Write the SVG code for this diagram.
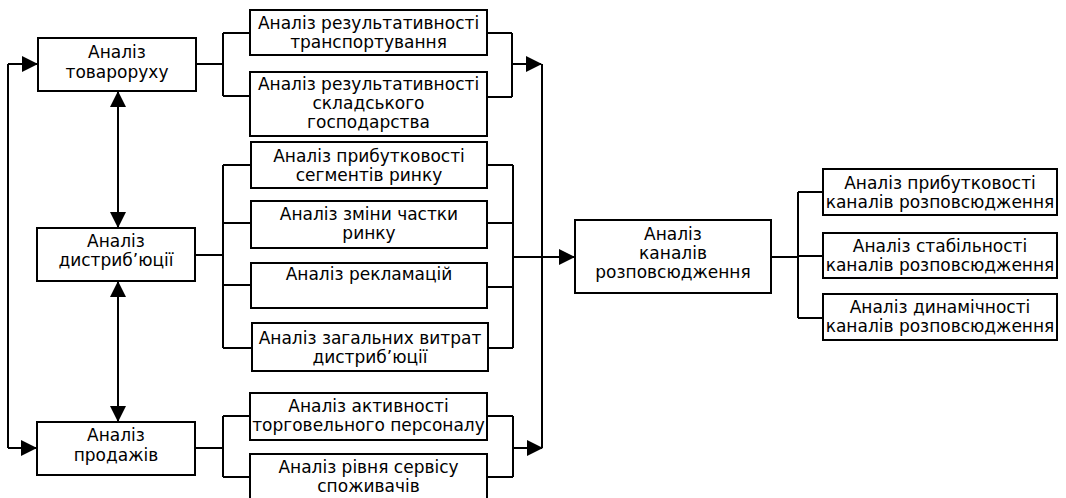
<svg xmlns="http://www.w3.org/2000/svg" width="1066" height="498" viewBox="0 0 1066 498">
<style>
.box{fill:#fff;stroke:#000;stroke-width:2}
.t{font-family:"DejaVu Sans",Verdana,sans-serif;font-size:17px;text-anchor:middle;fill:#000}
.c{fill:none;stroke:#000;stroke-width:2}
</style>
<defs>
<marker id="ah" markerWidth="16" markerHeight="16" viewBox="0 0 16 16" refX="15" refY="8" orient="auto" markerUnits="userSpaceOnUse">
<path d="M0,0 L16,8 L0,16 Z" fill="#000"/>
</marker>
<marker id="ahs" markerWidth="16" markerHeight="16" viewBox="0 0 16 16" refX="15" refY="8" orient="auto-start-reverse" markerUnits="userSpaceOnUse">
<path d="M0,0 L16,8 L0,16 Z" fill="#000"/>
</marker>
</defs>
<rect width="1066" height="498" fill="#fff"/>
<g id="connectors">
<path class="c" d="M8,64 L8,448"/>
<path class="c" d="M8,64 L37,64" marker-end="url(#ah)"/>
<path class="c" d="M8,448 L36,448" marker-end="url(#ah)"/>
<path class="c" d="M118,92 L118,227" marker-start="url(#ahs)" marker-end="url(#ahs)"/>
<path class="c" d="M118,282 L118,421" marker-start="url(#ahs)" marker-end="url(#ahs)"/>
<path class="c" d="M196,64 L223,64 M223,33 L223,96 M223,33 L250,33 M223,96 L250,96"/>
<path class="c" d="M195,255 L223,255 M223,165 L223,348 M223,165 L251,165 M223,223 L251,223 M223,285 L251,285 M223,348 L252,348"/>
<path class="c" d="M195,448 L223,448 M223,416 L223,477 M223,416 L250,416 M223,477 L250,477"/>
<path class="c" d="M487,33 L512,33 M512,33 L512,97 M487,97 L512,97"/>
<path class="c" d="M512,64 L541,64" marker-end="url(#ah)"/>
<path class="c" d="M487,165 L513,165 M487,223 L513,223 M487,287 L513,287 M488,348 L513,348 M513,165 L513,348"/>
<path class="c" d="M512,257 L574,257" marker-end="url(#ah)"/>
<path class="c" d="M487,416 L513,416 M487,477 L513,477 M513,416 L513,477"/>
<path class="c" d="M513,448 L542,448" marker-end="url(#ah)"/>
<path class="c" d="M542,64 L542,448"/>
<path class="c" d="M771,257 L798,257 M798,192 L798,318 M798,192 L823,192 M798,256 L823,256 M798,318 L823,318"/>
</g>
<g id="n-tovaroruh"><rect class="box" x="38" y="38" width="158" height="53"/><text class="t" x="117" y="58">Аналіз</text><text class="t" x="117" y="78">товароруху</text></g>
<g id="n-dystrybutsiia"><rect class="box" x="37" y="228" width="158" height="53"/><text class="t" x="116" y="247">Аналіз</text><text class="t" x="116" y="266">дистриб’юції</text></g>
<g id="n-prodazhi"><rect class="box" x="37" y="422" width="158" height="53"/><text class="t" x="116" y="441">Аналіз</text><text class="t" x="116" y="461">продажів</text></g>
<g id="n-transport"><rect class="box" x="250" y="10" width="237" height="45"/><text class="t" x="368.5" y="29">Аналіз результативності</text><text class="t" x="368.5" y="48">транспортування</text></g>
<g id="n-sklad"><rect class="box" x="250" y="72" width="237" height="64"/><text class="t" x="368.5" y="90">Аналіз результативності</text><text class="t" x="368.5" y="109">складського</text><text class="t" x="368.5" y="128">господарства</text></g>
<g id="n-segmenty"><rect class="box" x="251" y="142" width="236" height="46"/><text class="t" x="369" y="162">Аналіз прибутковості</text><text class="t" x="369" y="181">сегментів ринку</text></g>
<g id="n-chastka"><rect class="box" x="251" y="201" width="236" height="47"/><text class="t" x="369" y="220">Аналіз зміни частки</text><text class="t" x="369" y="239">ринку</text></g>
<g id="n-reklamatsii"><rect class="box" x="251" y="263" width="236" height="45"/><text class="t" x="369" y="280">Аналіз рекламацій</text></g>
<g id="n-vytraty"><rect class="box" x="252" y="323" width="236" height="48"/><text class="t" x="370" y="344">Аналіз загальних витрат</text><text class="t" x="370" y="363">дистриб’юції</text></g>
<g id="n-personal"><rect class="box" x="250" y="393" width="237" height="47"/><text class="t" x="368.5" y="412">Аналіз активності</text><text class="t" x="368.5" y="431">торговельного персоналу</text></g>
<g id="n-servis"><rect class="box" x="250" y="454" width="237" height="60"/><text class="t" x="368.5" y="473">Аналіз рівня сервісу</text><text class="t" x="368.5" y="492">споживачів</text></g>
<g id="n-kanaly"><rect class="box" x="575" y="220" width="196" height="73"/><text class="t" x="673" y="240">Аналіз</text><text class="t" x="673" y="259">каналів</text><text class="t" x="673" y="278">розповсюдження</text></g>
<g id="n-prybutkovist"><rect class="box" x="823" y="169" width="234" height="46"/><text class="t" x="940" y="189">Аналіз прибутковості</text><text class="t" x="940" y="208">каналів розповсюдження</text></g>
<g id="n-stabilnist"><rect class="box" x="823" y="233" width="234" height="45"/><text class="t" x="940" y="252">Аналіз стабільності</text><text class="t" x="940" y="271">каналів розповсюдження</text></g>
<g id="n-dynamichnist"><rect class="box" x="823" y="294" width="234" height="46"/><text class="t" x="940" y="313">Аналіз динамічності</text><text class="t" x="940" y="332">каналів розповсюдження</text></g>
</svg>
